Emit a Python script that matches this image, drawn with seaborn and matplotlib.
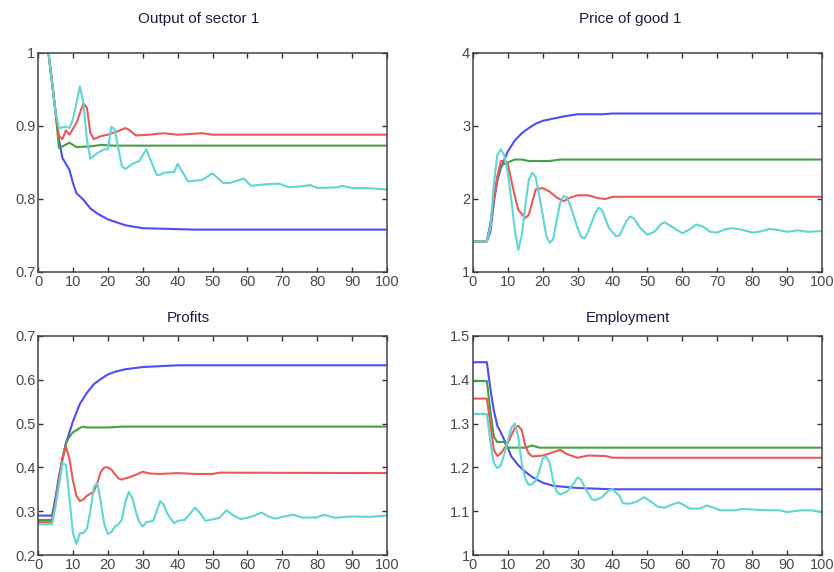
import numpy as np
import pandas as pd
import seaborn as sns
import matplotlib
matplotlib.use("Agg")
import matplotlib.pyplot as plt
from matplotlib.ticker import FormatStrFormatter

# values (time, value pairs per series)

# Output of sector 1
out_blue_t = [0, 3, 4, 5, 6, 7, 9, 10, 11, 13, 15, 17, 20, 25, 30, 45, 100]
out_blue = [1.0, 1.0, 0.96, 0.92, 0.881, 0.856, 0.84, 0.822, 0.808, 0.799, 0.787, 0.78, 0.772, 0.764, 0.760, 0.758, 0.758]
out_green_t = [0, 3, 4, 5, 6, 7, 9, 11, 15, 18, 22, 100]
out_green = [1.0, 1.0, 0.96, 0.92, 0.870, 0.872, 0.877, 0.871, 0.872, 0.874, 0.873, 0.873]
out_red_t = [0, 3, 4, 5, 6, 7, 8, 9, 11, 13, 14, 15, 16, 18, 20, 23, 25, 26, 28, 32, 36, 40, 47, 50, 100]
out_red = [1.0, 1.0, 0.96, 0.92, 0.886, 0.882, 0.894, 0.888, 0.904, 0.931, 0.925, 0.890, 0.882, 0.886, 0.888, 0.893, 0.897,
           0.895, 0.887, 0.888, 0.890, 0.888, 0.890, 0.888, 0.888]
out_cyan_t = [0, 3, 4, 5, 6, 8, 9, 10, 12, 13, 14, 15, 17, 19, 20, 21, 22, 24, 25, 27, 29, 31, 34, 35, 36, 39, 40, 43, 45,
              47, 50, 53, 55, 59, 61, 65, 69, 72, 75, 78, 80, 86, 87, 90, 94, 100]
out_cyan = [1.0, 1.0, 0.96, 0.92, 0.897, 0.899, 0.897, 0.909, 0.954, 0.931, 0.881, 0.855, 0.863, 0.868, 0.868, 0.899, 0.895,
            0.845, 0.841, 0.848, 0.852, 0.868, 0.833, 0.833, 0.836, 0.837, 0.848, 0.824, 0.825, 0.826, 0.835, 0.822, 0.822,
            0.828, 0.818, 0.820, 0.821, 0.816, 0.817, 0.819, 0.815, 0.816, 0.818, 0.815, 0.815, 0.813]

# Price of good 1
price_blue_t = [0, 4, 5, 6, 7, 8, 10, 12, 14, 16, 18, 20, 23, 26, 30, 37, 40, 100]
price_blue = [1.42, 1.42, 1.55, 1.95, 2.25, 2.42, 2.65, 2.8, 2.9, 2.97, 3.03, 3.07, 3.1, 3.13, 3.16, 3.16, 3.17, 3.17]
price_green_t = [0, 4, 5, 6, 7, 8, 9, 12, 14, 16, 22, 25, 100]
price_green = [1.42, 1.42, 1.65, 2.0, 2.3, 2.45, 2.48, 2.54, 2.54, 2.52, 2.52, 2.54, 2.54]
price_red_t = [0, 4, 5, 6, 7, 8, 9, 10, 12, 13, 15, 16, 18, 20, 22, 24, 26, 28, 30, 33, 36, 38, 40, 100]
price_red = [1.42, 1.42, 1.65, 2.0, 2.3, 2.52, 2.52, 2.48, 2.04, 1.85, 1.74, 1.78, 2.13, 2.15, 2.1, 2.02, 1.97, 2.02,
             2.05, 2.05, 2.01, 2.0, 2.03, 2.03]
price_cyan_t = [0, 4, 5, 6, 7, 8, 9, 10, 11, 12, 13, 14, 15, 16, 17, 18, 19, 20, 21, 22, 23, 24, 25, 26, 27, 28, 30, 31,
                32, 33, 35, 36, 37, 39, 41, 42, 44, 45, 46, 48, 50, 52, 54, 55, 57, 60, 62, 64, 66, 68, 70, 72, 74, 77,
                80, 82, 85, 88, 90, 93, 96, 100]
price_cyan = [1.42, 1.42, 1.6, 2.2, 2.6, 2.68, 2.6, 2.36, 2.0, 1.58, 1.30, 1.5, 1.9, 2.26, 2.36, 2.3, 2.05, 1.78, 1.5,
              1.40, 1.45, 1.7, 1.95, 2.04, 2.02, 1.9, 1.6, 1.48, 1.46, 1.55, 1.8, 1.88, 1.85, 1.6, 1.49, 1.5, 1.7, 1.76,
              1.74, 1.6, 1.51, 1.55, 1.66, 1.68, 1.62, 1.53, 1.58, 1.65, 1.62, 1.55, 1.54, 1.58, 1.6, 1.58, 1.54, 1.55,
              1.59, 1.57, 1.55, 1.57, 1.55, 1.56]

# Profits
prof_blue_t = [0, 4, 5, 6, 7, 8, 9, 10, 12, 14, 16, 18, 20, 22, 25, 30, 40, 100]
prof_blue = [0.29, 0.29, 0.33, 0.38, 0.42, 0.455, 0.48, 0.505, 0.545, 0.57, 0.59, 0.602, 0.612, 0.618, 0.624, 0.629,
             0.633, 0.633]
prof_green_t = [0, 4, 5, 6, 7, 8, 9, 10, 12, 13, 14, 20, 24, 100]
prof_green = [0.28, 0.28, 0.32, 0.37, 0.42, 0.455, 0.47, 0.48, 0.49, 0.493, 0.491, 0.491, 0.493, 0.493]
prof_red_t = [0, 4, 5, 6, 7, 8, 9, 10, 11, 12, 13, 14, 15, 16, 17, 18, 19, 20, 21, 22, 23, 24, 25, 26, 28, 30, 32, 35,
              40, 45, 50, 52, 100]
prof_red = [0.275, 0.275, 0.32, 0.37, 0.42, 0.447, 0.42, 0.37, 0.335, 0.323, 0.327, 0.335, 0.34, 0.345, 0.365, 0.39,
            0.4, 0.4, 0.395, 0.385, 0.375, 0.372, 0.375, 0.377, 0.383, 0.39, 0.386, 0.385, 0.387, 0.385, 0.385, 0.388,
            0.387]
prof_cyan_t = [0, 4, 5, 6, 7, 8, 9, 10, 11, 12, 13, 14, 15, 16, 17, 18, 19, 20, 21, 22, 23, 24, 25, 26, 27, 28, 29, 30,
               31, 33, 35, 36, 37, 39, 40, 42, 45, 46, 48, 51, 52, 54, 56, 58, 60, 62, 64, 66, 68, 70, 73, 76, 80, 82,
               85, 90, 95, 100]
prof_cyan = [0.27, 0.27, 0.31, 0.36, 0.41, 0.405, 0.33, 0.25, 0.225, 0.25, 0.25, 0.26, 0.3, 0.355, 0.365, 0.32, 0.27,
             0.248, 0.252, 0.265, 0.27, 0.28, 0.32, 0.344, 0.33, 0.3, 0.275, 0.265, 0.275, 0.278, 0.323, 0.315, 0.295,
             0.272, 0.278, 0.28, 0.308, 0.3, 0.278, 0.283, 0.285, 0.302, 0.29, 0.282, 0.285, 0.29, 0.297, 0.288, 0.283,
             0.287, 0.292, 0.285, 0.286, 0.292, 0.285, 0.288, 0.287, 0.29]

# Employment
emp_blue_t = [0, 4, 5, 6, 7, 8, 10, 11, 13, 15, 17, 20, 23, 27, 30, 40, 100]
emp_blue = [1.44, 1.44, 1.38, 1.33, 1.295, 1.28, 1.245, 1.225, 1.205, 1.19, 1.178, 1.165, 1.158, 1.155, 1.153, 1.15,
            1.15]
emp_green_t = [0, 4, 5, 6, 7, 9, 10, 15, 17, 19, 100]
emp_green = [1.397, 1.397, 1.33, 1.27, 1.258, 1.258, 1.245, 1.245, 1.25, 1.245, 1.245]
emp_red_t = [0, 4, 5, 6, 7, 8, 10, 12, 13, 14, 15, 16, 17, 20, 22, 25, 27, 30, 33, 38, 40, 100]
emp_red = [1.357, 1.357, 1.3, 1.24, 1.226, 1.232, 1.255, 1.29, 1.295, 1.285, 1.25, 1.232, 1.225, 1.227, 1.232, 1.24,
           1.23, 1.222, 1.227, 1.226, 1.222, 1.222]
emp_cyan_t = [0, 4, 5, 6, 7, 8, 9, 10, 11, 12, 13, 14, 15, 16, 17, 18, 19, 20, 21, 22, 23, 24, 25, 27, 29, 30, 31, 32,
              34, 35, 37, 39, 40, 42, 43, 45, 47, 49, 51, 53, 55, 57, 59, 61, 62, 65, 67, 69, 71, 75, 77, 80, 85, 88,
              90, 94, 97, 100]
emp_cyan = [1.322, 1.322, 1.26, 1.21, 1.198, 1.205, 1.23, 1.26, 1.29, 1.3, 1.27, 1.21, 1.175, 1.16, 1.162, 1.17, 1.19,
            1.22, 1.225, 1.21, 1.17, 1.145, 1.138, 1.145, 1.165, 1.177, 1.172, 1.155, 1.128, 1.125, 1.132, 1.148, 1.15,
            1.135, 1.118, 1.117, 1.122, 1.132, 1.122, 1.11, 1.108, 1.115, 1.12, 1.112, 1.106, 1.106, 1.113, 1.108,
            1.102, 1.102, 1.105, 1.104, 1.102, 1.102, 1.098, 1.102, 1.102, 1.098]

titles = ["Output of sector 1", "Price of good 1", "Profits", "Employment"]
colors = {"blue": "#4d4df5", "green": "#45a045", "red": "#e85a5a", "cyan": "#62d4d4"}

panels = [
    [(out_blue_t, out_blue), (out_green_t, out_green), (out_red_t, out_red), (out_cyan_t, out_cyan)],
    [(price_blue_t, price_blue), (price_green_t, price_green), (price_red_t, price_red), (price_cyan_t, price_cyan)],
    [(prof_blue_t, prof_blue), (prof_green_t, prof_green), (prof_red_t, prof_red), (prof_cyan_t, prof_cyan)],
    [(emp_blue_t, emp_blue), (emp_green_t, emp_green), (emp_red_t, emp_red), (emp_cyan_t, emp_cyan)],
]
ylims = [(0.7, 1.0), (1, 4), (0.2, 0.7), (1.0, 1.5)]
yticks = [[0.7, 0.8, 0.9, 1.0], [1, 2, 3, 4], [0.2, 0.3, 0.4, 0.5, 0.6, 0.7], [1.0, 1.1, 1.2, 1.3, 1.4, 1.5]]
title_x = [0.46, 0.45, 0.43, 0.445]
title_y = [1.155, 1.155, 1.082, 1.082]

sns.set_style("ticks")
plt.rcParams["font.family"] = ["Liberation Sans", "DejaVu Sans"]
plt.rcParams["xtick.direction"] = "in"
plt.rcParams["ytick.direction"] = "in"

fig = plt.figure(figsize=(8.34, 5.72), dpi=100)
positions = [
    [0.0456, 0.5245, 0.4185, 0.383],
    [0.567, 0.5245, 0.4185, 0.383],
    [0.0456, 0.0297, 0.4185, 0.383],
    [0.567, 0.0297, 0.4185, 0.383],
]

for i, pos in enumerate(positions):
    ax = fig.add_axes(pos)
    for (t, v), name in zip(panels[i], ["blue", "green", "red", "cyan"]):
        df = pd.DataFrame({"t": t, "v": v})
        sns.lineplot(data=df, x="t", y="v", color=colors[name], linewidth=1.5, ax=ax)
    ax.set_xlim(0, 100)
    ax.set_ylim(*ylims[i])
    ax.set_xticks(range(0, 101, 10))
    ax.set_yticks(yticks[i])
    ax.yaxis.set_major_formatter(FormatStrFormatter("%g"))
    ax.set_xlabel("")
    ax.set_ylabel("")
    ax.tick_params(axis="both", which="both", top=True, right=True, length=3.5, width=1,
                   labelsize=10.5, labelcolor="#4a4a4a", color="#333333", pad=2)
    for sp in ax.spines.values():
        sp.set_visible(True)
        sp.set_color("#444444")
        sp.set_linewidth(1.1)
    ax.text(title_x[i], title_y[i], titles[i], transform=ax.transAxes, ha="center", va="center",
            fontsize=11, color="#1c1c40")

fig.savefig("out.png", dpi=100)
